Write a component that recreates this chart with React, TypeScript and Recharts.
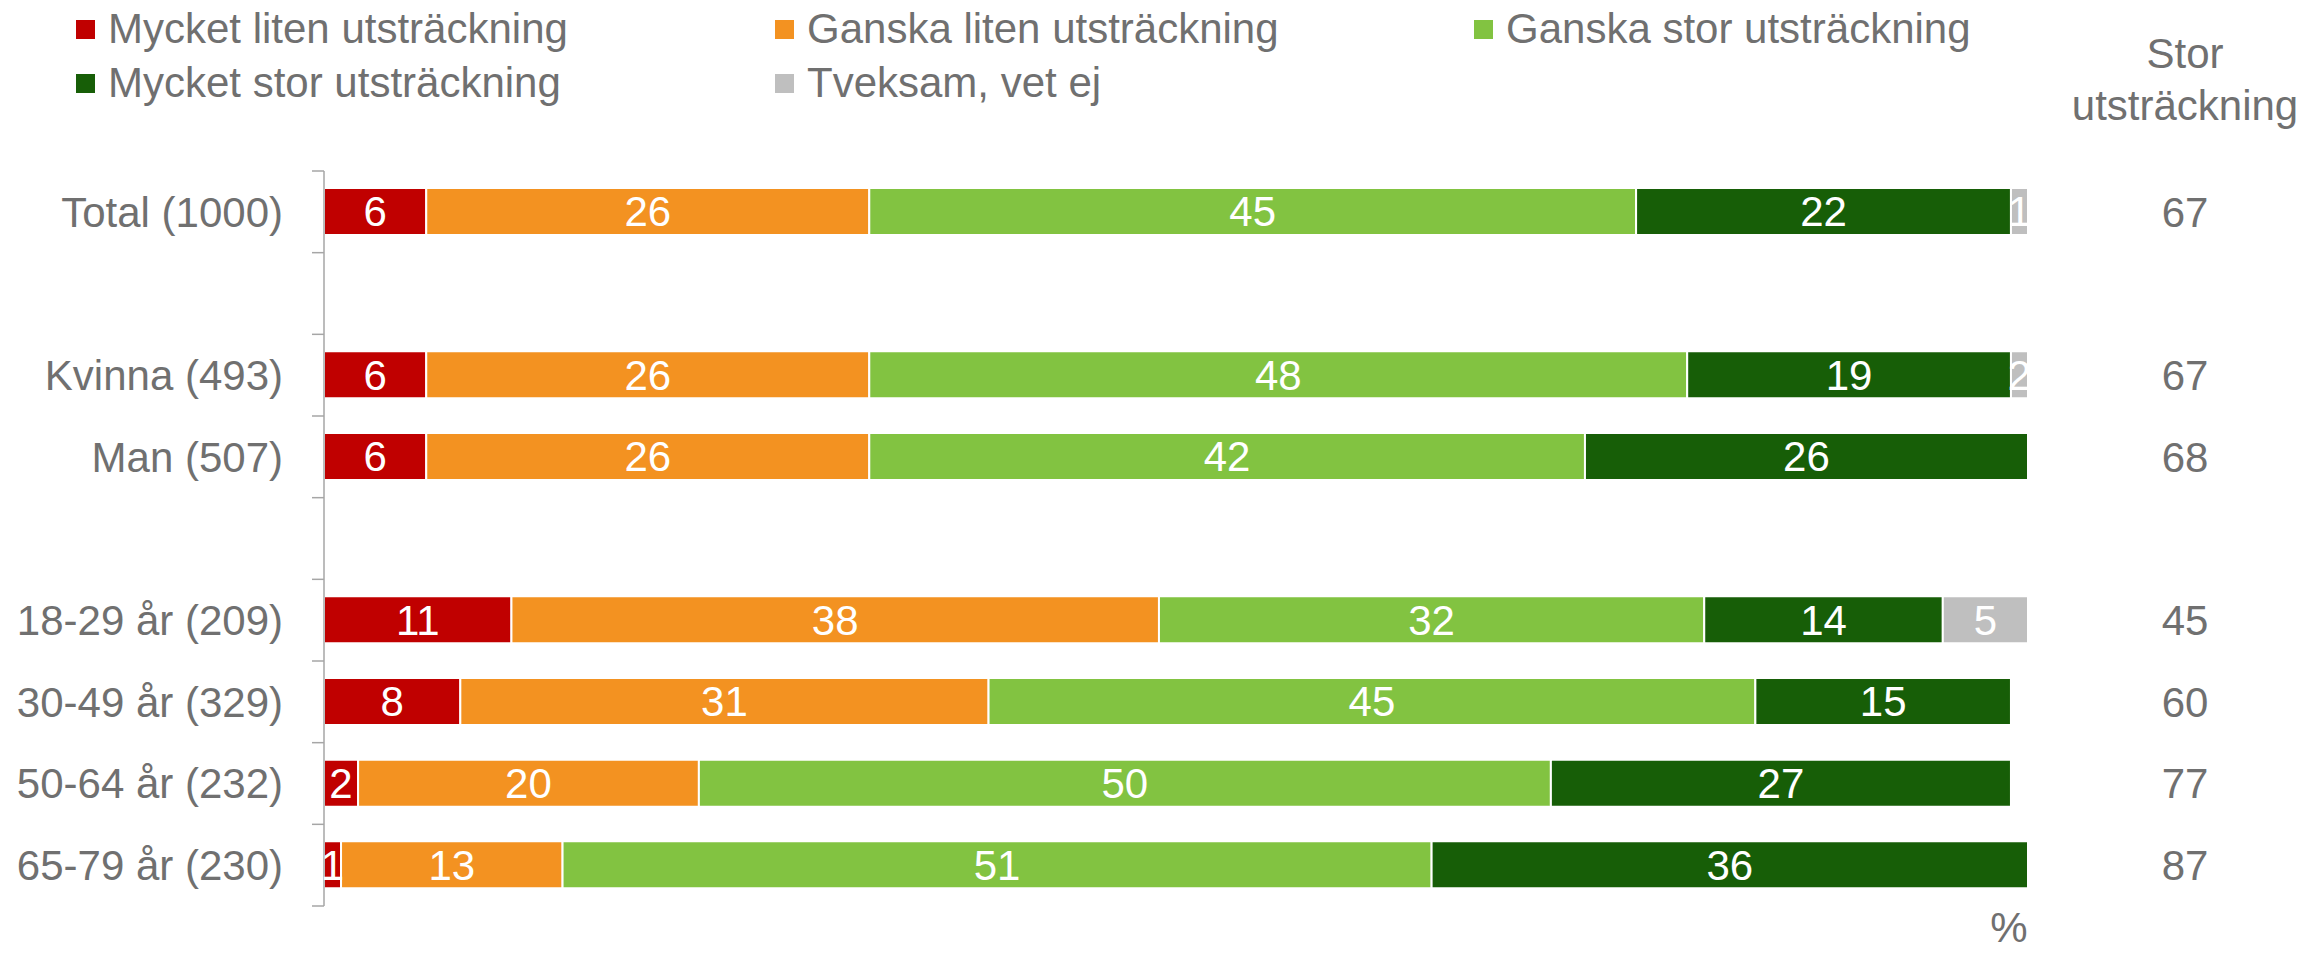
import { BarChart, Bar, XAxis, YAxis, Legend, LabelList } from "recharts";

const CATEGORIES = [
  "Total (1000)",
  "",
  "Kvinna (493)",
  "Man (507)",
  " ",
  "18-29 år (209)",
  "30-49 år (329)",
  "50-64 år (232)",
  "65-79 år (230)",
];

const MYCKET_LITEN = [6, null, 6, 6, null, 11, 8, 2, 1];
const GANSKA_LITEN = [26, null, 26, 26, null, 38, 31, 20, 13];
const GANSKA_STOR = [45, null, 48, 42, null, 32, 45, 50, 51];
const MYCKET_STOR = [22, null, 19, 26, null, 14, 15, 27, 36];
const TVEKSAM = [1, null, 2, 0, null, 5, 0, 0, 0];
const STOR_TOTAL = [67, null, 67, 68, null, 45, 60, 77, 87];

const SERIES = [
  { key: "mycketLiten", name: "Mycket liten utsträckning", color: "#C00000", values: MYCKET_LITEN },
  { key: "ganskaLiten", name: "Ganska liten utsträckning", color: "#F39221", values: GANSKA_LITEN },
  { key: "ganskaStor", name: "Ganska stor utsträckning", color: "#82C341", values: GANSKA_STOR },
  { key: "mycketStor", name: "Mycket stor utsträckning", color: "#175E07", values: MYCKET_STOR },
  { key: "tveksam", name: "Tveksam, vet ej", color: "#BFBFBF", values: TVEKSAM },
];

// legend order: row by row, three per row
const LEGEND_ORDER = ["mycketLiten", "ganskaLiten", "ganskaStor", "mycketStor", "tveksam"];

const data = CATEGORIES.map((name, i) => {
  const row: Record<string, any> = { name, stor: STOR_TOTAL[i] };
  SERIES.forEach((s) => {
    row[s.key] = s.values[i];
  });
  return row;
});

const FONT = "'Liberation Sans', Arial, sans-serif";
const GREY = "#707070";
const AXIS_GREY = "#A6A6A6";

function LeftTick(props: any) {
  const { x, y, payload, index, visibleTicksCount } = props;
  const half = payload?.offset ?? 40.8;
  const axisX = x + 29;
  const last = index === visibleTicksCount - 1;
  return (
    <g>
      <line x1={axisX} x2={axisX + 12} y1={y - half} y2={y - half} stroke={AXIS_GREY} strokeWidth={1.5} />
      {last && (
        <line x1={axisX} x2={axisX + 12} y1={y + half} y2={y + half} stroke={AXIS_GREY} strokeWidth={1.5} />
      )}
      <text x={x} y={y} dy="0.355em" textAnchor="end" fontSize={42} fill={GREY} fontFamily={FONT}>
        {String(payload.value).trim()}
      </text>
    </g>
  );
}

function RightTick(props: any) {
  const { x, y, index } = props;
  const v = STOR_TOTAL[index];
  if (v == null) return null;
  return (
    <text x={x} y={y} dy="0.355em" textAnchor="middle" fontSize={42} fill={GREY} fontFamily={FONT}>
      {v}
    </text>
  );
}

function LegendContent() {
  return (
    <div style={{ position: "relative", width: 2305, height: 110, fontFamily: FONT }}>
      {LEGEND_ORDER.map((key, i) => {
        const s = SERIES.find((d) => d.key === key)!;
        const col = i % 3;
        const row = Math.floor(i / 3);
        return (
          <div
            key={key}
            style={{
              position: "absolute",
              left: 76 + col * 699,
              top: 2 + row * 53.5,
              height: 53.5,
              lineHeight: "53.5px",
              fontSize: 42,
              color: GREY,
              whiteSpace: "nowrap",
              display: "flex",
              alignItems: "center",
            }}
          >
            <span
              style={{
                display: "inline-block",
                width: 19,
                height: 19,
                background: s.color,
                marginRight: 13,
                marginTop: 2,
              }}
            />
            {s.name}
          </div>
        );
      })}
    </div>
  );
}

const labelFmt = (v: any) => (v == null || v === 0 ? "" : v);

export default function App() {
  return (
    <div style={{ position: "relative", width: 2305, height: 953, background: "#fff", fontFamily: FONT }}>
      <style>{"body{margin:0}"}</style>
      <BarChart
        width={2305}
        height={953}
        data={data}
        layout="vertical"
        margin={{ top: 171, right: 0, bottom: 47, left: 0 }}
        barSize={47}
      >
        <XAxis type="number" domain={[0, 100]} allowDataOverflow hide />
        <YAxis
          type="category"
          dataKey="name"
          width={324}
          axisLine={{ stroke: AXIS_GREY, strokeWidth: 1.5 }}
          tickLine={false}
          tickSize={12}
          tickMargin={29}
          interval={0}
          tick={<LeftTick />}
        />
        <YAxis
          yAxisId="stor"
          orientation="right"
          type="category"
          dataKey="name"
          width={277}
          axisLine={false}
          tickLine={false}
          tickSize={0}
          tickMargin={157}
          interval={0}
          tick={<RightTick />}
        />
        <Legend
          verticalAlign="middle"
          align="center"
          wrapperStyle={{ top: 0, left: 0, width: 2305 }}
          content={() => <LegendContent />}
        />
        {SERIES.map((s) => (
          <Bar
            key={s.key}
            dataKey={s.key}
            name={s.name}
            stackId="a"
            fill={s.color}
            stroke="#ffffff"
            strokeWidth={2}
            isAnimationActive={false}
          >
            <LabelList
              dataKey={s.key}
              position="center"
              fill="#ffffff"
              fontSize={42}
              fontFamily={FONT}
              formatter={labelFmt}
            />
          </Bar>
        ))}
      </BarChart>
      <div
        style={{
          position: "absolute",
          left: 2185,
          top: 28,
          transform: "translateX(-50%)",
          textAlign: "center",
          fontSize: 42,
          lineHeight: "52px",
          color: GREY,
          whiteSpace: "nowrap",
        }}
      >
        Stor
        <br />
        utsträckning
      </div>
      <div
        style={{
          position: "absolute",
          left: 2009,
          top: 904,
          height: 47,
          transform: "translateX(-50%)",
          fontSize: 42,
          lineHeight: "47px",
          color: GREY,
        }}
      >
        %
      </div>
    </div>
  );
}
